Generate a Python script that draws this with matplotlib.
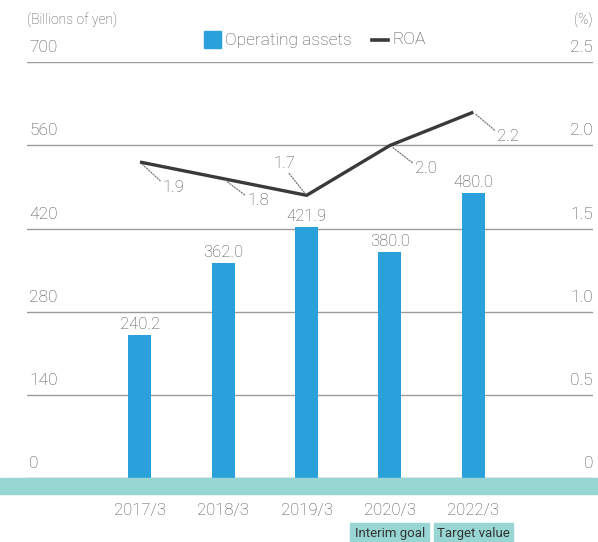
import matplotlib
matplotlib.use("Agg")
import matplotlib.pyplot as plt
from matplotlib.patches import Rectangle
from matplotlib.lines import Line2D

# ---- data ----
years = ["2017/3", "2018/3", "2019/3", "2020/3", "2022/3"]
assets = [240.2, 362.0, 421.9, 380.0, 480.0]          # billions of yen
roa = [1.9, 1.8, 1.7, 2.0, 2.2]                        # %
left_ticks = [0, 140, 280, 420, 560, 700]
right_ticks = [0, 0.5, 1.0, 1.5, 2.0, 2.5]
right_tick_labels = ["0", "0.5", "1.0", "1.5", "2.0", "2.5"]
notes = {"2020/3": "Interim goal", "2022/3": "Target value"}

W, H = 598, 542
DPI = 100
BAR = "#2ba1dc"
TEAL = "#97d6d2"
GREY = "#4f4f4f"
LINE = "#3a3a3a"

plt.rcParams["font.family"] = ["Roboto", "DejaVu Sans"]
plt.rcParams["font.weight"] = "light"

fig = plt.figure(figsize=(W / DPI, H / DPI), dpi=DPI)


def fx(px):
    return px / W


def fy(py):
    return 1 - py / H


# plot area: x 27..593 px, value 0 at y=478 px, 700 at y=62.3 px
ax_l, ax_r, ax_b, ax_t = 27, 593, 478, 62.3
ax = fig.add_axes([fx(ax_l), fy(ax_b), fx(ax_r - ax_l), (ax_b - ax_t) / H])
ax2 = ax.twinx()

x = list(range(len(years)))
step = 83.33  # px between categories
ax.set_xlim(-(140 - ax_l) / step, 4 + (ax_r - 473.3) / step)
ax2.set_xlim(ax.get_xlim())
ax.set_ylim(0, 700)
ax2.set_ylim(0, 2.5)

for a in (ax, ax2):
    for s in a.spines.values():
        s.set_visible(False)
    a.tick_params(length=0, labelleft=False, labelright=False, labelbottom=False)
    a.set_xticks([])
ax.set_yticks(left_ticks)
ax2.set_yticks([])
ax.grid(axis="y", color="#9b9b9b", lw=1.0)
ax.set_axisbelow(True)

# bars
ax.bar(x, assets, width=23 / step, color=BAR, zorder=2)
for xi, v in zip(x, assets):
    ax.annotate(f"{v:.1f}", xy=(xi, v), xytext=(0, 6), textcoords="offset pixels",
                ha="center", va="baseline", fontsize=12, color=GREY)

# ROA line with dotted leaders to its value labels
ax2.plot(x, roa, color=LINE, lw=2.4, zorder=3, solid_capstyle="butt")
offsets = [(23, -25), (24, -22), (-22, 32), (25, -23), (24, -24)]
leader = dict(arrowstyle="-", color="#777777", lw=0.9,
              linestyle=(0, (1, 1.3)), shrinkA=0, shrinkB=2)
for xi, v, (dx, dy) in zip(x, roa, offsets):
    if dy < 0:
        ax2.annotate(f"{v:.1f}", xy=(xi, v), xytext=(dx, dy), textcoords="offset pixels",
                     ha="left", va="center", fontsize=12, color=GREY,
                     arrowprops=dict(leader, relpos=(0, 0.75)))
    else:
        ax2.annotate(f"{v:.1f}", xy=(xi, v), xytext=(dx, dy), textcoords="offset pixels",
                     ha="center", va="center", fontsize=12, color=GREY,
                     arrowprops=dict(leader, relpos=(0.6, 0)))

# axis value labels sitting above the gridlines
for t in left_ticks:
    ax.annotate(str(t), xy=(0, t), xycoords=("axes fraction", "data"),
                xytext=(2, 10), textcoords="offset pixels",
                ha="left", va="baseline", fontsize=12.5, color=GREY)
for t, lab in zip(right_ticks, right_tick_labels):
    ax2.annotate(lab, xy=(1, t), xycoords=("axes fraction", "data"),
                 xytext=(0, 10), textcoords="offset pixels",
                 ha="right", va="baseline", fontsize=12.5, color=GREY)

# unit captions
fig.text(fx(27), fy(20), "(Billions of yen)", ha="left", va="center", fontsize=10, color=GREY)
fig.text(fx(593), fy(20), "(%)", ha="right", va="center", fontsize=10, color=GREY)

# legend
fig.patches.append(Rectangle((fx(204), fy(48)), fx(17), 17 / H, transform=fig.transFigure,
                             color=BAR, figure=fig))
fig.text(fx(225), fy(40), "Operating assets", ha="left", va="center", fontsize=12.5, color=GREY)
fig.lines.append(Line2D([fx(372), fx(388)], [fy(40), fy(40)], transform=fig.transFigure,
                        color=LINE, lw=2.6, figure=fig))
fig.text(fx(392), fy(40), "ROA", ha="left", va="center", fontsize=12.5, color=GREY)

# baseline band
fig.patches.append(Rectangle((0, fy(493.5)), 1, 15.5 / H, transform=fig.transFigure,
                             color=TEAL, figure=fig, zorder=5))

# category labels
for xi, yr in zip(x, years):
    ax.annotate(yr, xy=(xi, 0), xycoords=("data", "axes fraction"),
                xytext=(0, -32), textcoords="offset pixels",
                ha="center", va="center", fontsize=12, color=GREY, annotation_clip=False)

# goal tags under the last two categories
tag_w = 79  # px
for xi, yr in zip(x, years):
    if yr in notes:
        cx = ax.transData.transform((xi, 0))[0]
        fig.patches.append(Rectangle((fx(cx - tag_w / 2), fy(548)), fx(tag_w), 25 / H,
                                     transform=fig.transFigure, color=TEAL, figure=fig))
        fig.text(fx(cx), fy(533.5), notes[yr], ha="center", va="center", fontsize=9.5,
                 family=["Liberation Sans Narrow", "Roboto", "DejaVu Sans"],
                 fontweight="normal", color="#333333")

fig.savefig("out.png", dpi=DPI)
